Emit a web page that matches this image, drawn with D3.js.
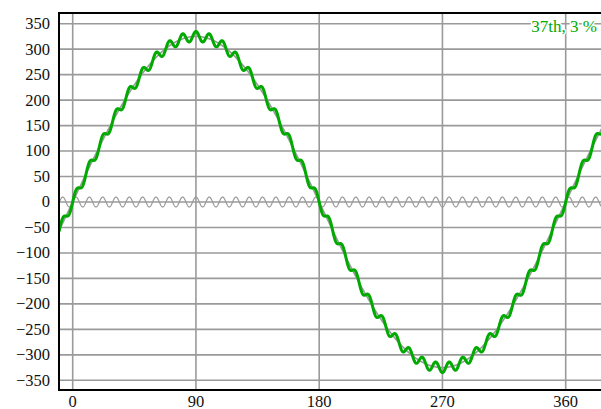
<!DOCTYPE html>
<html><head><meta charset="utf-8">
<script src="https://cdn.jsdelivr.net/npm/d3@7"></script>
<style>
html,body{margin:0;padding:0;background:#fff;overflow:hidden}
</style></head>
<body>
<svg id="chart" width="601" height="409" font-family="'Liberation Serif', 'Times New Roman', Times, serif"></svg>
<script>
// Chart parameters
const xTicks = [0, 90, 180, 270, 360];
const yTicks = [-350, -300, -250, -200, -150, -100, -50, 0, 50, 100, 150, 200, 250, 300, 350];
const xDomain = [-10, 390];
const yDomain = [-370, 370];
const fundamentalAmplitude = [325];
const harmonicOrder = [37];
const harmonicPercent = [3];
const labelText = ["37th, 3\u00A0%"];

(function () {
const svg = d3.select("#chart");
const mLeft = 59, mTop = 13, mBottom = 390;
const pxPerUnit = 493 / 360;
const x = d3.scaleLinear().domain(xDomain).range([mLeft, mLeft + (xDomain[1] - xDomain[0]) * pxPerUnit]);
const y = d3.scaleLinear().domain(yDomain).range([mBottom + 0.5, mTop + 0.5]);

const A = fundamentalAmplitude[0], n = harmonicOrder[0], p = harmonicPercent[0] / 100;
const rad = Math.PI / 180;
const samples = d3.range(xDomain[0], xDomain[1] + 0.001, 0.1);
const fund = samples.map(t => [t, A * Math.sin(t * rad)]);
const harm = samples.map(t => [t, A * p * Math.sin(n * t * rad)]);
const sum = samples.map(t => [t, A * Math.sin(t * rad) + A * p * Math.sin(n * t * rad)]);

svg.append("clipPath").attr("id", "clip").append("rect")
  .attr("x", mLeft).attr("y", mTop).attr("width", 700).attr("height", mBottom - mTop);

const grid = svg.append("g");
grid.selectAll(".hg").data(yTicks).join("line")
  .attr("x1", mLeft).attr("x2", 601)
  .attr("y1", d => y(d)).attr("y2", d => y(d))
  .attr("stroke", "#9a9a9a").attr("stroke-width", 1.6);
grid.selectAll(".vg").data(xTicks).join("line")
  .attr("x1", d => x(d)).attr("x2", d => x(d))
  .attr("y1", mTop).attr("y2", mBottom)
  .attr("stroke", "#9a9a9a").attr("stroke-width", 1.6);

const line = d3.line().x(d => x(d[0])).y(d => y(d[1]));
const plot = svg.append("g").attr("clip-path", "url(#clip)");
plot.append("path").datum(harm).attr("d", line).attr("fill", "none")
  .attr("stroke", "#9a9a9a").attr("stroke-width", 1.2);
plot.append("path").datum(fund).attr("d", line).attr("fill", "none")
  .attr("stroke", "#9a9a9a").attr("stroke-width", 1.6);
plot.append("path").datum(sum).attr("d", line).attr("fill", "none")
  .attr("stroke", "#00aa00").attr("stroke-width", 3).attr("stroke-linejoin", "round");

// frame
svg.append("line").attr("x1", mLeft).attr("x2", 601).attr("y1", mTop).attr("y2", mTop).attr("stroke", "#000").attr("stroke-width", 2);
svg.append("line").attr("x1", mLeft).attr("x2", 601).attr("y1", mBottom).attr("y2", mBottom).attr("stroke", "#000").attr("stroke-width", 2);
svg.append("line").attr("x1", mLeft).attr("x2", mLeft).attr("y1", mTop - 1).attr("y2", mBottom + 1).attr("stroke", "#000").attr("stroke-width", 2);

// axes labels
const fmt = d => (d < 0 ? "\u2212" + Math.abs(d) : String(d));
svg.selectAll(".yl").data(yTicks).join("text")
  .attr("x", 50).attr("y", d => y(d)).attr("dy", "0.33em")
  .attr("text-anchor", "end").attr("font-size", 16.5).attr("fill", "#111")
  .text(fmt);
svg.selectAll(".xl").data(xTicks).join("text")
  .attr("x", d => x(d)).attr("y", 406.5)
  .attr("text-anchor", "middle").attr("font-size", 16.5).attr("fill", "#111")
  .text(fmt);

svg.append("text").attr("x", 597).attr("y", 32).attr("text-anchor", "end")
  .attr("font-size", 17).attr("fill", "#00aa00")
  .attr("stroke", "#fff").attr("stroke-width", 3).attr("paint-order", "stroke")
  .text(labelText[0]);
})();
</script>
</body></html>
